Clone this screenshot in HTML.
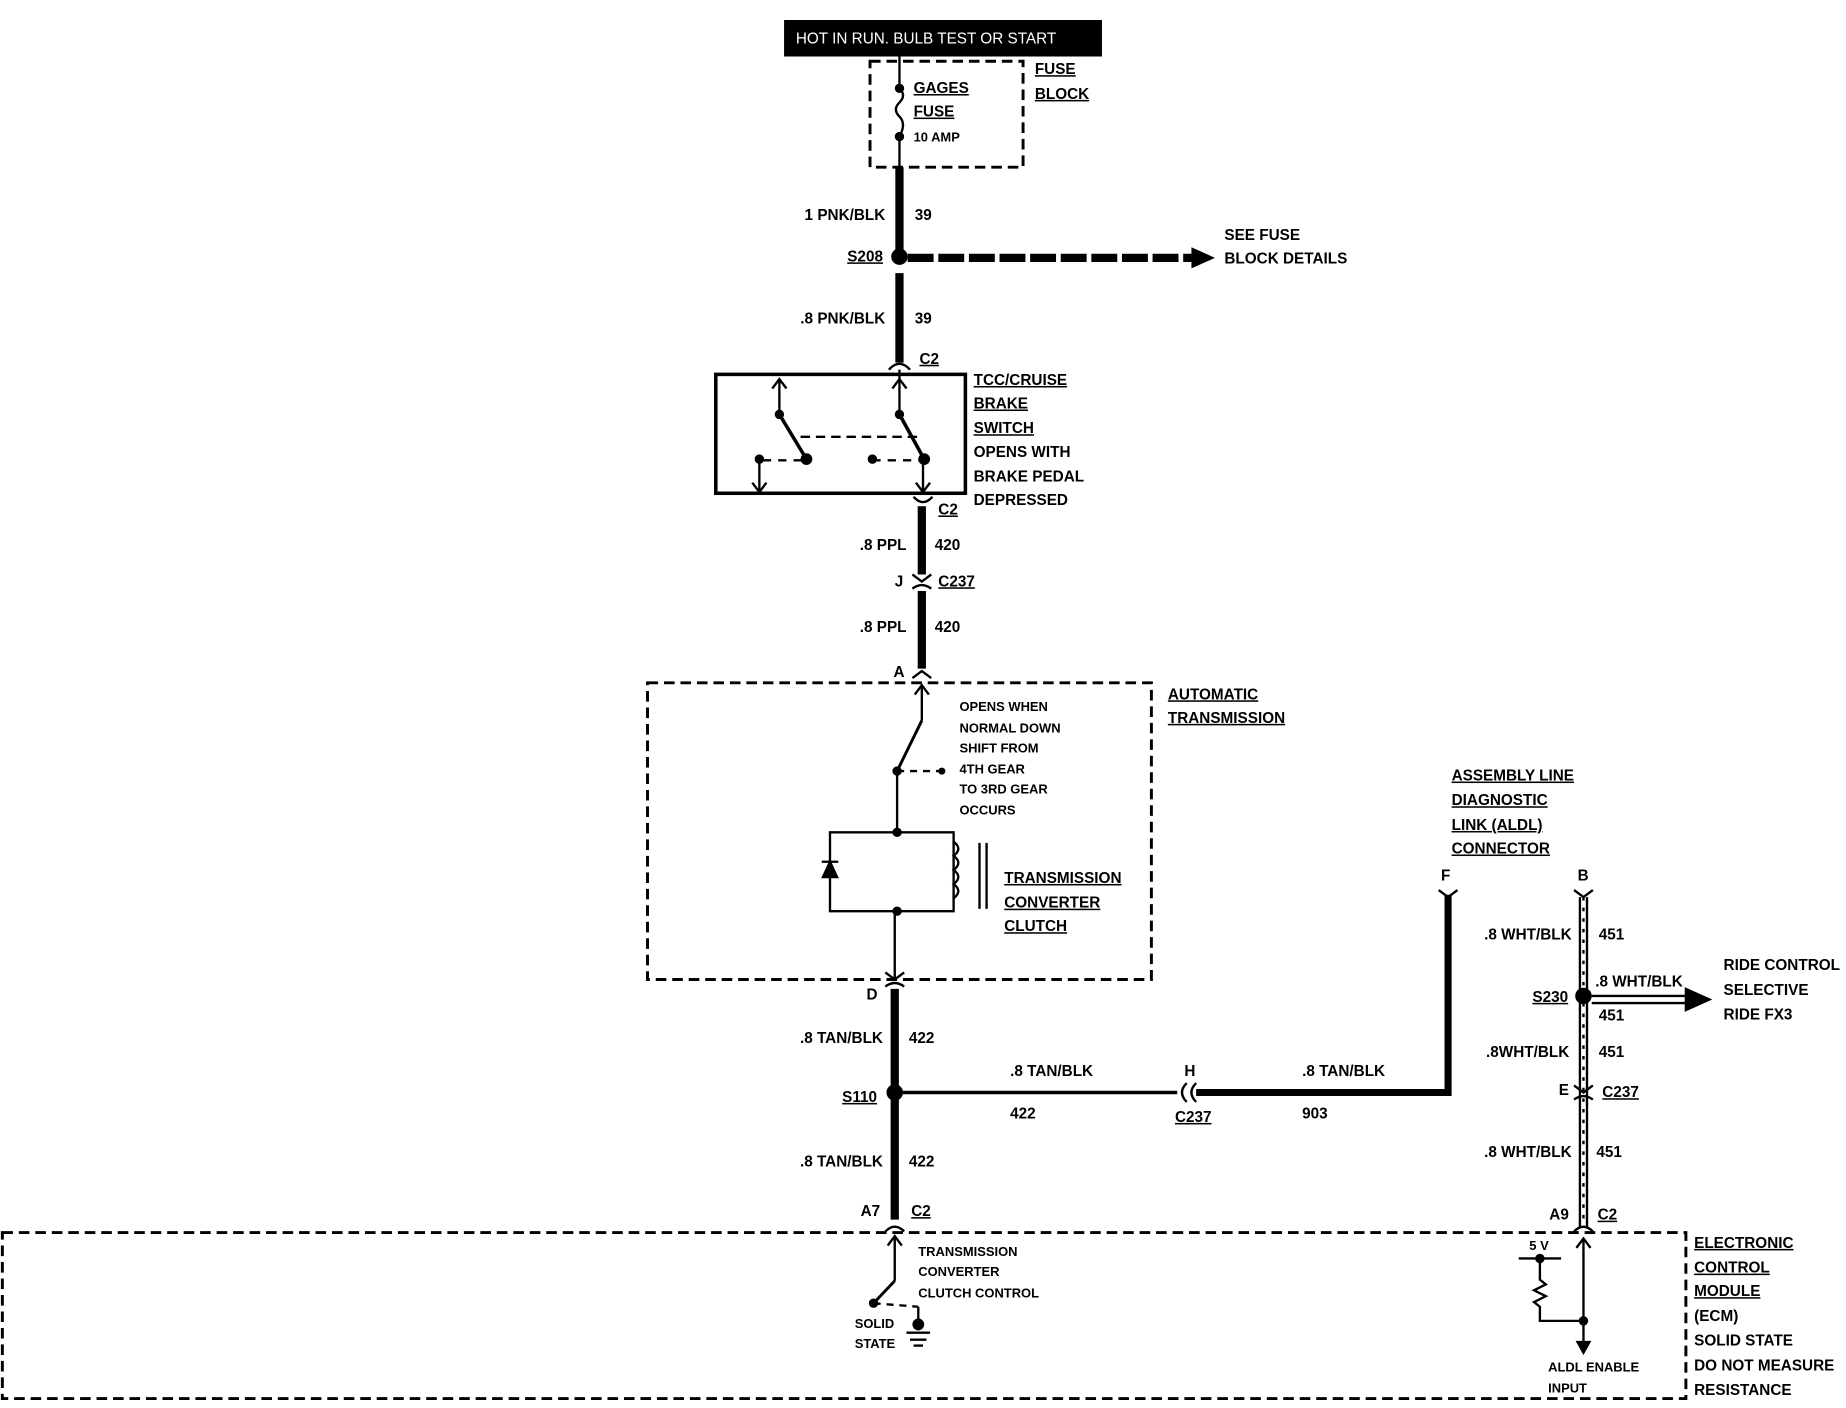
<!DOCTYPE html>
<html><head><style>
html,body{margin:0;padding:0;background:#fff;}
svg{display:block;}
text{font-family:"Liberation Sans",sans-serif;font-weight:bold;font-size:13px;fill:#000;}
.s{font-size:11px;}
.u{text-decoration:underline;}
</style></head><body>
<svg width="1846" height="1408" viewBox="0 0 1568 1196" preserveAspectRatio="none" xmlns="http://www.w3.org/2000/svg">
<g stroke="#000" fill="none" stroke-width="2">
<!-- top box -->
<rect x="667" y="18" width="268" height="29" fill="#000"/>
<rect x="739" y="52" width="130" height="90" stroke-dasharray="9,5" stroke-width="2.5"/>
<line x1="764" y1="47" x2="764" y2="75"/>
<path d="M764 75 q6 6 0 12 q-6 6 0 12 q6 6 0 17"/>
<line x1="764" y1="116" x2="764" y2="142"/>
<line x1="764" y1="142" x2="764" y2="218" stroke-width="7"/>
<line x1="771" y1="219" x2="1015" y2="219" stroke-width="7" stroke-dasharray="22,4"/>
<line x1="764" y1="232" x2="764" y2="308" stroke-width="7"/>
<path d="M755 314 q9 -10 18 0"/>
<!-- switch -->
<rect x="608" y="318" width="212" height="101" stroke-width="3"/>
<line x1="662" y1="322" x2="662" y2="352"/>
<path d="M656 330 l6 -8 l6 8"/>
<line x1="662" y1="352" x2="685" y2="390" stroke-width="3"/>
<line x1="764" y1="314" x2="764" y2="352"/>
<path d="M758 330 l6 -8 l6 8"/>
<line x1="764" y1="352" x2="785" y2="390" stroke-width="3"/>
<line x1="680" y1="371" x2="780" y2="371" stroke-dasharray="8,5"/>
<line x1="648" y1="391" x2="685" y2="391" stroke-dasharray="7,6"/>
<line x1="741" y1="391" x2="785" y2="391" stroke-dasharray="7,6"/>
<line x1="645" y1="390" x2="645" y2="418"/>
<path d="M639 410 l6 8 l6 -8"/>
<line x1="784" y1="390" x2="784" y2="418"/>
<path d="M778 410 l6 8 l6 -8"/>
<path d="M776 422 q8 9 16 0"/>
<line x1="783" y1="430" x2="783" y2="488" stroke-width="7"/>
<path d="M775 488 l8 6 l8 -6 M775 500 q8 -6 16 0"/>
<line x1="783" y1="502" x2="783" y2="568" stroke-width="7"/>
<path d="M775 576 l8 -6 l8 6"/>
<!-- automatic transmission -->
<rect x="550" y="580" width="428" height="252" stroke-dasharray="9,5" stroke-width="2.5"/>
<line x1="783" y1="582" x2="783" y2="612"/>
<path d="M777 590 l6 -8 l6 8"/>
<line x1="783" y1="612" x2="762" y2="655" stroke-width="2.5"/>
<line x1="762" y1="655" x2="802" y2="655" stroke-dasharray="6,5"/>
<line x1="762" y1="655" x2="762" y2="707"/>
<rect x="705" y="707" width="105" height="67"/>
<path d="M698 732 h14 M699 745 l6 -13 l6 13 z" fill="#000"/>
<path d="M810 715 q8 6 0 12 q8 6 0 12 q8 6 0 12 q8 6 0 12"/>
<line x1="832" y1="716" x2="832" y2="772"/>
<line x1="838" y1="716" x2="838" y2="772"/>
<line x1="760" y1="774" x2="760" y2="832"/>
<path d="M752 826 l8 6 l8 -6 M752 838 q8 -6 16 0"/>
<line x1="760" y1="840" x2="760" y2="1036" stroke-width="7"/>
<line x1="760" y1="928" x2="1000" y2="928" stroke-width="3"/>
<path d="M1008 920 q-8 8 0 16 M1016 920 q-8 8 0 16"/>
<path d="M1016 928 H1230 V760" stroke-width="6"/>
<path d="M1222 756 l8 6 l8 -6"/>
<!-- ALDL right -->
<path d="M1337 756 l8 6 l8 -6"/>
<line x1="1342" y1="762" x2="1342" y2="1042" stroke-width="2"/>
<line x1="1348" y1="762" x2="1348" y2="1042" stroke-width="2"/>
<line x1="1345" y1="762" x2="1345" y2="1042" stroke-width="2" stroke-dasharray="3,6"/>
<line x1="1352" y1="846" x2="1435" y2="846" stroke-width="2"/>
<line x1="1352" y1="852" x2="1435" y2="852" stroke-width="2"/>
<path d="M1432 840 l20 9 l-20 9 z" fill="#000"/>
<path d="M1337 922 l8 6 l8 -6 M1337 934 q8 -6 16 0"/>
<path d="M1337 1046 q8 -8 16 0"/>
<path d="M752 1046 q8 -8 16 0"/>
<!-- ECM -->
<rect x="2" y="1047" width="1430" height="141" stroke-dasharray="9,5" stroke-width="2.5"/>
<line x1="760" y1="1050" x2="760" y2="1088"/>
<path d="M754 1058 l6 -8 l6 8"/>
<line x1="760" y1="1088" x2="742" y2="1107" stroke-width="2.5"/>
<line x1="742" y1="1107" x2="780" y2="1110" stroke-dasharray="6,5"/>
<line x1="780" y1="1110" x2="780" y2="1130"/>
<line x1="770" y1="1132" x2="790" y2="1132"/>
<line x1="773" y1="1138" x2="787" y2="1138"/>
<line x1="776" y1="1143" x2="784" y2="1143"/>
<line x1="1290" y1="1069" x2="1326" y2="1069"/>
<path d="M1308 1069 v18 l5 4 l-10 5 l10 5 l-10 5 l5 4 v12 h37"/>
<line x1="1345" y1="1052" x2="1345" y2="1140"/>
<path d="M1339 1060 l6 -8 l6 8"/>
<path d="M1340 1140 l5 9 l5 -9 z" fill="#000"/>
</g>
<g fill="#000">
<path d="M1012 210 l20 9 l-20 9 z"/>
<circle cx="764" cy="75" r="4"/><circle cx="764" cy="116" r="4"/>
<circle cx="764" cy="218" r="7"/>
<circle cx="662" cy="352" r="4"/><circle cx="685" cy="390" r="5"/><circle cx="645" cy="390" r="4"/>
<circle cx="764" cy="352" r="4"/><circle cx="785" cy="390" r="5"/><circle cx="741" cy="390" r="4"/>
<circle cx="762" cy="655" r="4"/><circle cx="800" cy="655" r="3"/>
<circle cx="762" cy="707" r="4"/><circle cx="762" cy="774" r="4"/>
<circle cx="760" cy="928" r="7"/>
<circle cx="1345" cy="846" r="7"/>
<circle cx="742" cy="1107" r="4"/><circle cx="780" cy="1125" r="5"/>
<circle cx="1308" cy="1069" r="4"/><circle cx="1345" cy="1122" r="4"/>
</g>
<text x="676" y="37" style="fill:#fff;font-weight:normal">HOT IN RUN. BULB TEST OR START</text>
<text x="776" y="79" class="u">GAGES</text>
<text x="776" y="99" class="u">FUSE</text>
<text x="776" y="120" class="s">10 AMP</text>
<text x="879" y="63" class="u">FUSE</text>
<text x="879" y="84" class="u">BLOCK</text>
<text x="752" y="187" text-anchor="end">1 PNK/BLK</text><text x="777" y="187">39</text>
<text x="750" y="222" text-anchor="end" class="u">S208</text>
<text x="1040" y="204">SEE FUSE</text><text x="1040" y="224">BLOCK DETAILS</text>
<text x="752" y="275" text-anchor="end">.8 PNK/BLK</text><text x="777" y="275">39</text>
<text x="781" y="309" class="u">C2</text>
<text x="827" y="327" class="u">TCC/CRUISE</text>
<text x="827" y="347" class="u">BRAKE</text>
<text x="827" y="368" class="u">SWITCH</text>
<text x="827" y="388">OPENS WITH</text>
<text x="827" y="409">BRAKE PEDAL</text>
<text x="827" y="429">DEPRESSED</text>
<text x="797" y="437" class="u">C2</text>
<text x="770" y="467" text-anchor="end">.8 PPL</text><text x="794" y="467">420</text>
<text x="760" y="498">J</text><text x="797" y="498" class="u">C237</text>
<text x="770" y="537" text-anchor="end">.8 PPL</text><text x="794" y="537">420</text>
<text x="759" y="575">A</text>
<text x="992" y="594" class="u">AUTOMATIC</text>
<text x="992" y="614" class="u">TRANSMISSION</text>
<text x="815" y="604" class="s">OPENS WHEN</text>
<text x="815" y="622" class="s">NORMAL DOWN</text>
<text x="815" y="639" class="s">SHIFT FROM</text>
<text x="815" y="657" class="s">4TH GEAR</text>
<text x="815" y="674" class="s">TO 3RD GEAR</text>
<text x="815" y="692" class="s">OCCURS</text>
<text x="853" y="750" class="u">TRANSMISSION</text>
<text x="853" y="771" class="u">CONVERTER</text>
<text x="853" y="791" class="u">CLUTCH</text>
<text x="736" y="849">D</text>
<text x="750" y="886" text-anchor="end">.8 TAN/BLK</text><text x="772" y="886">422</text>
<text x="745" y="936" text-anchor="end" class="u">S110</text>
<text x="858" y="914">.8 TAN/BLK</text><text x="858" y="950">422</text>
<text x="1006" y="914">H</text><text x="998" y="953" class="u">C237</text>
<text x="1106" y="914">.8 TAN/BLK</text><text x="1106" y="950">903</text>
<text x="750" y="991" text-anchor="end">.8 TAN/BLK</text><text x="772" y="991">422</text>
<text x="731" y="1033">A7</text><text x="774" y="1033" class="u">C2</text>
<text x="780" y="1067" class="s">TRANSMISSION</text>
<text x="780" y="1084" class="s">CONVERTER</text>
<text x="780" y="1102" class="s">CLUTCH CONTROL</text>
<text x="726" y="1128" class="s">SOLID</text>
<text x="726" y="1145" class="s">STATE</text>
<text x="1233" y="663" class="u">ASSEMBLY LINE</text>
<text x="1233" y="684" class="u">DIAGNOSTIC</text>
<text x="1233" y="705" class="u">LINK (ALDL)</text>
<text x="1233" y="725" class="u">CONNECTOR</text>
<text x="1224" y="748">F</text><text x="1340" y="748">B</text>
<text x="1335" y="798" text-anchor="end">.8 WHT/BLK</text><text x="1358" y="798">451</text>
<text x="1332" y="851" text-anchor="end" class="u">S230</text>
<text x="1355" y="838">.8 WHT/BLK</text><text x="1358" y="867">451</text>
<text x="1464" y="824">RIDE CONTROL</text>
<text x="1464" y="845">SELECTIVE</text>
<text x="1464" y="866">RIDE FX3</text>
<text x="1333" y="898" text-anchor="end">.8WHT/BLK</text><text x="1358" y="898">451</text>
<text x="1324" y="930">E</text><text x="1361" y="932" class="u">C237</text>
<text x="1335" y="983" text-anchor="end">.8 WHT/BLK</text><text x="1356" y="983">451</text>
<text x="1316" y="1036">A9</text><text x="1357" y="1036" class="u">C2</text>
<text x="1299" y="1062" class="s">5 V</text>
<text x="1315" y="1165" class="s">ALDL ENABLE</text>
<text x="1315" y="1183" class="s">INPUT</text>
<text x="1439" y="1060" class="u">ELECTRONIC</text>
<text x="1439" y="1081" class="u">CONTROL</text>
<text x="1439" y="1101" class="u">MODULE</text>
<text x="1439" y="1122">(ECM)</text>
<text x="1439" y="1143">SOLID STATE</text>
<text x="1439" y="1164">DO NOT MEASURE</text>
<text x="1439" y="1185">RESISTANCE</text>
</svg>
</body></html>
